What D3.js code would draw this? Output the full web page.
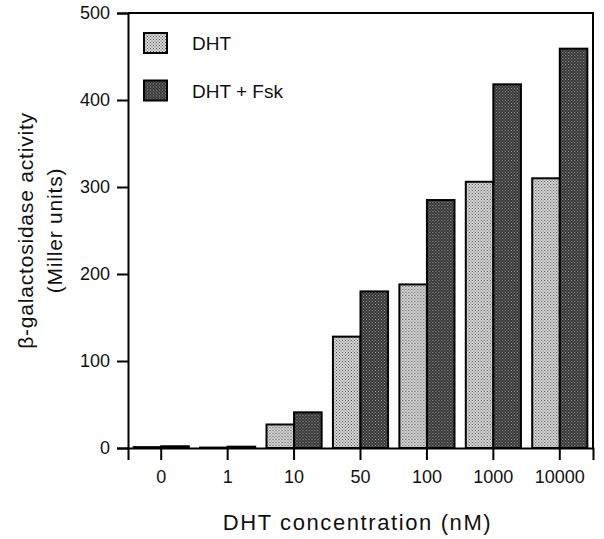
<!DOCTYPE html>
<html>
<head>
<meta charset="utf-8">
<script src="https://cdn.jsdelivr.net/npm/d3@7"></script>
<style>
  body { margin: 0; background: #fff; }
  text { font-family: "Liberation Sans", Arial, sans-serif; fill: #111; }
</style>
</head>
<body>
<div id="plot"></div>
<script>
const categories = ["0", "1", "10", "50", "100", "1000", "10000"];
const seriesNames = ["DHT", "DHT + Fsk"];
const dhtValues = [1, 0.5, 27, 128, 188, 306, 310];
const fskValues = [2, 1.5, 41, 180, 285, 418, 459];
const yTicks = [0, 100, 200, 300, 400, 500];

const margin = {top: 13, right: 11, bottom: 91, left: 128},
      width = 604 - margin.left - margin.right,
      height = 539 - margin.top - margin.bottom;

const svg = d3.select("#plot")
  .append("svg")
    .attr("width", 604)
    .attr("height", 539)
  .append("g")
    .attr("transform", `translate(${margin.left},${margin.top})`);

// stipple patterns
const defs = svg.append("defs");
function stipple(id, bg, dot, size) {
  const p = defs.append("pattern")
    .attr("id", id)
    .attr("patternUnits", "userSpaceOnUse")
    .attr("width", size).attr("height", size);
  p.append("rect").attr("width", size).attr("height", size).attr("fill", bg);
  p.append("rect").attr("x", 0).attr("y", 0).attr("width", 1).attr("height", 1).attr("fill", dot);
  p.append("rect").attr("x", size / 2).attr("y", size / 2).attr("width", 1).attr("height", 1).attr("fill", dot);
}
stipple("light", "#d8d8d8", "#555", 3);
stipple("dark", "#333", "#999", 3);
const fills = ["url(#light)", "url(#dark)"];

const x = d3.scaleBand()
  .domain(categories)
  .range([0, width])
  .paddingInner(0.17)
  .paddingOuter(0.085);

const xSub = d3.scaleBand()
  .domain([0, 1])
  .range([0, x.bandwidth()]);

const y = d3.scaleLinear()
  .domain([0, 500])
  .range([height, 0]);

// bars
const rows = categories.map((c, i) => ({cat: c, vals: [dhtValues[i], fskValues[i]]}));
svg.selectAll("g.grp")
  .data(rows)
  .join("g")
    .attr("class", "grp")
    .attr("transform", d => `translate(${x(d.cat)},0)`)
  .selectAll("rect")
  .data(d => d.vals.map((v, k) => ({v, k})))
  .join("rect")
    .attr("x", d => xSub(d.k))
    .attr("y", d => y(d.v))
    .attr("width", xSub.bandwidth())
    .attr("height", d => height - y(d.v))
    .attr("fill", d => fills[d.k])
    .attr("stroke", "#000")
    .attr("stroke-width", 2);

// frame top and right
svg.append("path")
  .attr("d", `M0,0H${width}V${height}`)
  .attr("fill", "none")
  .attr("stroke", "#000")
  .attr("stroke-width", 2);

// axes
const xAxis = svg.append("g")
  .attr("transform", `translate(0,${height})`)
  .call(d3.axisBottom(x).tickSizeOuter(0).tickSize(12).tickPadding(10));
xAxis.selectAll("text").style("font-size", "18px");

const yAxis = svg.append("g")
  .call(d3.axisLeft(y).tickValues(yTicks).tickSizeOuter(0).tickSize(11).tickPadding(7));
yAxis.selectAll("text").style("font-size", "18px");

svg.selectAll(".domain").attr("stroke-width", 2);
svg.selectAll(".tick line").attr("stroke-width", 2);

// axis titles
svg.append("text")
  .attr("x", width / 2 - 3)
  .attr("y", height + 82)
  .attr("text-anchor", "middle")
  .style("font-size", "22px")
  .style("letter-spacing", "1.6px")
  .text("DHT concentration (nM)");

const yt = svg.append("text")
  .attr("transform", `translate(-95,${height / 2}) rotate(-90)`)
  .attr("text-anchor", "middle")
  .style("font-size", "21px")
  .style("letter-spacing", "0.8px");
yt.append("tspan").attr("x", 0).attr("dy", 0).text("β-galactosidase activity");
yt.append("tspan").attr("x", 0).attr("dy", 29).text("(Miller units)");

// legend
const legend = svg.append("g").attr("transform", "translate(16,20)");
seriesNames.forEach((name, i) => {
  const g = legend.append("g").attr("transform", `translate(0,${i * 47.5})`);
  g.append("rect")
    .attr("width", 23).attr("height", 20)
    .attr("fill", fills[i])
    .attr("stroke", "#000")
    .attr("stroke-width", 2);
  g.append("text")
    .attr("x", 48).attr("y", 17)
    .style("font-size", "19px")
    .text(name);
});
</script>
</body>
</html>
